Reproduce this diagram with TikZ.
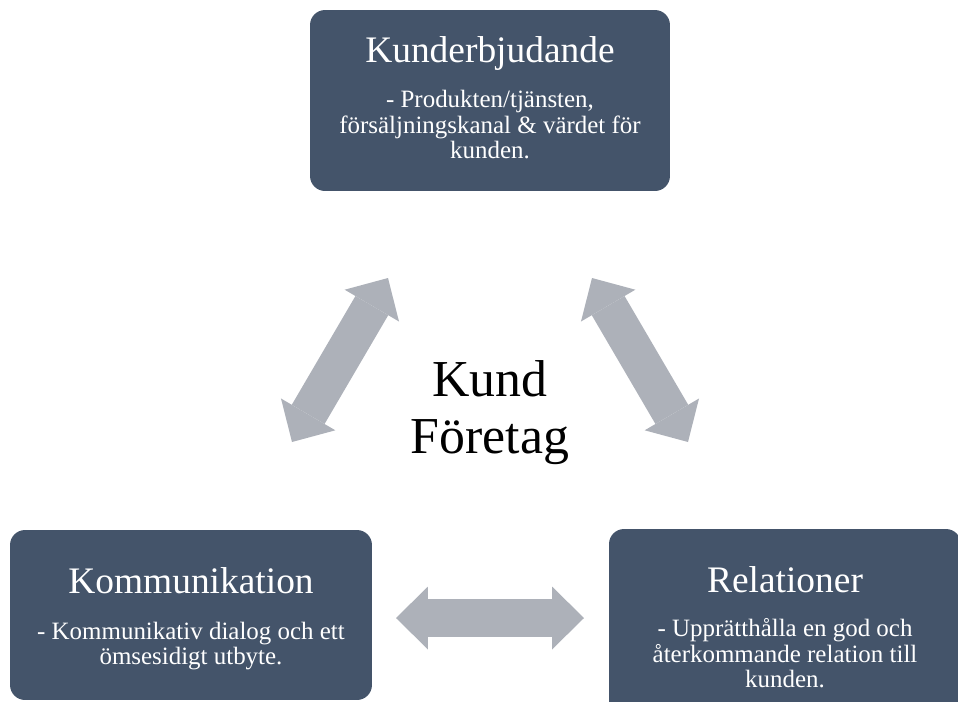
\documentclass[tikz,border=0pt]{standalone}
\usepackage{fontspec}
\setmainfont{Liberation Serif}
\usepackage{tikz}
\usetikzlibrary{calc, arrows.meta}
\tikzstyle{every node}=[font=\fontsize{14.2}{14.6}\selectfont]
\tikzstyle{boks}=[rectangle, fill=boksbla, rounded corners=0.3cm, inner sep=0pt]
\tikzstyle{titel}=[anchor=base, text=white, font=\fontsize{21.3}{25}\selectfont]
\tikzstyle{brodtext}=[anchor=base, text=white, align=center]
\tikzstyle{pil}=[draw=pilgra, line width=0.76cm, {Triangle[length=0.64cm, width=1.26cm, line width=0pt]}-{Triangle[length=0.64cm, width=1.26cm, line width=0pt]}]

\begin{document}
\begin{tikzpicture}[x=0.02cm, y=-0.02cm]
	\definecolor{boksbla}{HTML}{44546A}
	\definecolor{pilgra}{HTML}{ADB1B9}

	\useasboundingbox (0,0) rectangle (958,701);
	\clip (0,0) rectangle (958,701);

%%%%     BOKSAR     %%%%

	% kunderbjudande (base = sista raden)
	\node[boks, minimum width=7.2cm, minimum height=3.62cm] (erbj) at (490,100.5) {};
	\node[titel] (erbj-t) at ($(erbj.north)+(0,53)$) {Kunderbjudande};
	\node[brodtext] (erbj-b) at ($(erbj.north)+(0,149)$) {- Produkten/tjänsten,\\ försäljningskanal \& värdet för\\ kunden.};

	% kommunikation
	\node[boks, minimum width=7.24cm, minimum height=3.4cm] (komm) at (191,615) {};
	\node[titel] (komm-t) at ($(komm.north)+(0,64)$) {Kommunikation};
	\node[brodtext] (komm-b) at ($(komm.north)+(0,135)$) {- Kommunikativ dialog och ett\\ ömsesidigt utbyte.};

	% relationer
	\node[boks, minimum width=7.04cm, minimum height=3.72cm] (rel) at (785,622) {};
	\node[titel] (rel-t) at ($(rel.north)+(0,64)$) {Relationer};
	\node[brodtext] (rel-b) at ($(rel.north)+(0,159)$) {- Upprätthålla en god och\\ återkommande relation till\\ kunden.};

%%%%     MITTEN     %%%%

	\node[anchor=base, align=center, font=\fontsize{29.5}{31.9}\selectfont] (mitt) at (490,453) {Kund\\ Företag};

	% pilar
	\coordinate (vo) at (388,278);
	\coordinate (vn) at (292,442);
	\coordinate (ho) at (592,278);
	\coordinate (hn) at (688,442);
	\coordinate (nv) at (396,618);
	\coordinate (nh) at (584,618);

	\draw[pil] (vo) -- (vn);
	\draw[pil] (ho) -- (hn);
	\draw[pil] (nv) -- (nh);

\end{tikzpicture}
\end{document}
